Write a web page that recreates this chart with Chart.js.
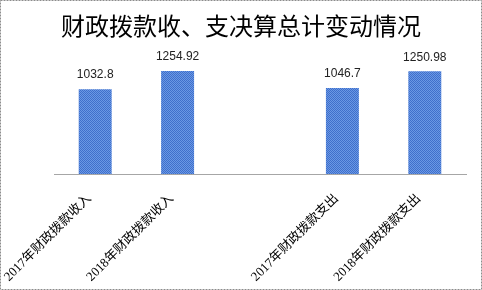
<!DOCTYPE html>
<html>
<head>
<meta charset="utf-8">
<script src="https://cdn.jsdelivr.net/npm/chart.js@4"></script>
<style>
  html, body { margin: 0; padding: 0; background: #fff; }
  #wrap { width: 482px; height: 290px; position: relative; }
</style>
</head>
<body>
<div id="wrap"><canvas id="myChart" width="482" height="290"></canvas></div>
<script>
// data
const categories = ['2017年财政拨款收入', '2018年财政拨款收入', '', '2017年财政拨款支出', '2018年财政拨款支出'];
const amounts = [1032.8, 1254.92, null, 1046.7, 1250.98];
const amountLabels = ['1032.8', '1254.92', '', '1046.7', '1250.98'];
const chartTitle = '财政拨款收、支决算总计变动情况';

// checkered blue fill like the office chart
function makePattern() {
    const c = document.createElement('canvas');
    c.width = 2;
    c.height = 2;
    const g = c.getContext('2d');
    g.fillStyle = '#3f6fcb';
    g.fillRect(0, 0, 2, 2);
    g.fillStyle = '#6a98e4';
    g.fillRect(1, 0, 1, 1);
    g.fillRect(0, 1, 1, 1);
    return g.createPattern(c, 'repeat');
}

// title, dashed frame and value labels
const decorations = {
    id: 'decorations',
    beforeDraw(chart) {
        const ctx = chart.ctx;
        ctx.save();
        ctx.fillStyle = '#fff';
        ctx.fillRect(0, 0, chart.width, chart.height);
        ctx.strokeStyle = '#8c8c8c';
        ctx.lineWidth = 1;
        ctx.setLineDash([2, 1]);
        ctx.strokeRect(0.5, 0.5, chart.width - 1, chart.height - 1);
        ctx.restore();
    },
    afterDatasetsDraw(chart) {
        const ctx = chart.ctx;
        ctx.save();
        ctx.fillStyle = '#000';
        ctx.font = '24px "Noto Sans CJK SC"';
        ctx.textAlign = 'center';
        ctx.textBaseline = 'middle';
        ctx.fillText(chartTitle, 241, 26);

        ctx.font = '12px "Liberation Sans"';
        ctx.fillStyle = '#222';
        ctx.textBaseline = 'bottom';
        const meta = chart.getDatasetMeta(0);
        meta.data.forEach(function (bar, i) {
            if (amounts[i] === null) return;
            ctx.fillText(amountLabels[i], bar.x, bar.y - 8);
        });
        ctx.restore();
    }
};

const data = {
    labels: categories,
    datasets: [{
        data: amounts,
        backgroundColor: makePattern(),
        borderWidth: 0,
        categoryPercentage: 1,
        barPercentage: 0.4
    }]
};

const config = {
    type: 'bar',
    data: data,
    plugins: [decorations],
    options: {
        responsive: false,
        animation: false,
        layout: {
            padding: { top: 59, left: 54, right: 16, bottom: 0 }
        },
        plugins: {
            legend: { display: false },
            title: { display: false },
            tooltip: { enabled: false }
        },
        scales: {
            y: {
                display: false,
                min: 0,
                max: 1400
            },
            x: {
                grid: { display: false, drawTicks: false },
                border: { display: true, color: '#a6a6a6', width: 1, dash: [1, 2] },
                ticks: {
                    autoSkip: false,
                    minRotation: 45,
                    maxRotation: 45,
                    padding: 17,
                    labelOffset: -6,
                    color: '#000',
                    font: { family: '"Liberation Serif", "Noto Sans CJK SC"', size: 13 }
                },
                afterFit(scale) {
                    scale.height = 116;
                    scale.paddingLeft = 0;
                    scale.paddingRight = 0;
                }
            }
        }
    }
};

const myChart = new Chart(document.getElementById('myChart'), config);
</script>
</body>
</html>
